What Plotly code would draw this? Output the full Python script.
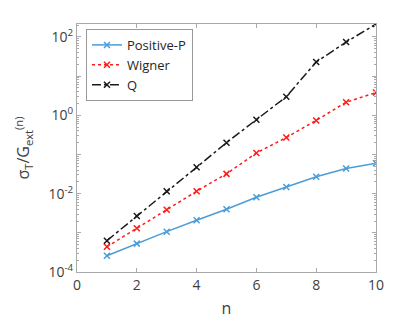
import plotly.graph_objects as go

n = [1, 2, 3, 4, 5, 6, 7, 8, 9, 10]
positive_p = [2.6e-4, 5.3e-4, 1.07e-3, 2.1e-3, 4.0e-3, 8.1e-3, 1.48e-2, 2.7e-2, 4.4e-2, 6.0e-2]
wigner = [4.4e-4, 1.31e-3, 3.9e-3, 1.15e-2, 3.2e-2, 1.09e-1, 0.27, 0.74, 2.15, 3.8]
q_func = [6.3e-4, 2.7e-3, 1.15e-2, 4.7e-2, 0.20, 0.77, 2.98, 22.9, 74, 213]

decades = [1e-4, 1e-3, 1e-2, 1e-1, 1e0, 1e1, 1e2]
decade_labels = ['10<sup>-4</sup>', '', '10<sup>-2</sup>', '', '10<sup>0</sup>', '', '10<sup>2</sup>']
minor_vals = [m * d for d in decades for m in range(2, 10)]

font = 'Open Sans'
grey = '#404040'

fig = go.Figure()
fig.add_trace(go.Scatter(
    x=n, y=positive_p, name='Positive-P', mode='lines+markers',
    line=dict(color='#4b9cd8', width=1.5),
    marker=dict(symbol='x-thin', size=6, line=dict(color='#4b9cd8', width=1.5))
))
fig.add_trace(go.Scatter(
    x=n, y=wigner, name='Wigner', mode='lines+markers',
    line=dict(color='#ff1a1a', width=1.5, dash='dot'),
    marker=dict(symbol='x-thin', size=6, line=dict(color='#ff1a1a', width=1.5))
))
fig.add_trace(go.Scatter(
    x=n, y=q_func, name='Q', mode='lines+markers',
    line=dict(color='#1a1a1a', width=1.5, dash='dashdot'),
    marker=dict(symbol='x-thin', size=6, line=dict(color='#1a1a1a', width=1.5))
))

# page body has an 8px margin, so the figure is a bit smaller and shifted
fig.update_layout(
    width=408, height=316,
    margin=dict(l=69, r=40, t=16, b=52),
    paper_bgcolor='white', plot_bgcolor='white',
    font=dict(family=font, size=14, color=grey),
    showlegend=True,
    legend=dict(
        x=0.03, y=0.98, xanchor='left', yanchor='top',
        bgcolor='white', bordercolor='#999', borderwidth=1,
        font=dict(size=13, color='#262626'),
        tracegroupgap=0, itemwidth=30,
    ),
    xaxis=dict(
        range=[0, 10], tickvals=[0, 2, 4, 6, 8, 10],
        ticks='inside', ticklen=4, tickcolor='#aaa',
        showline=True, linecolor='#aaa', linewidth=1, mirror='ticks',
        showgrid=False, zeroline=False, automargin=False,
        title=dict(text='n', font=dict(size=16, color=grey), standoff=10),
        tickfont=dict(size=14, color=grey),
    ),
    yaxis=dict(
        type='log', range=[-4, 2.33],
        tickvals=decades, ticktext=decade_labels,
        ticks='inside', ticklen=4, tickcolor='#aaa',
        minor=dict(tickvals=minor_vals, ticks='inside', ticklen=2, tickcolor='#aaa'),
        showline=True, linecolor='#aaa', linewidth=1, mirror='ticks',
        showgrid=False, zeroline=False, automargin=False,
        title=dict(text='σ<sub>T</sub>/G<sub>ext</sub><sup>(n)</sup>', font=dict(size=16, color=grey), standoff=14),
        tickfont=dict(size=14, color=grey),
    ),
)

fig.write_html('out.html')
